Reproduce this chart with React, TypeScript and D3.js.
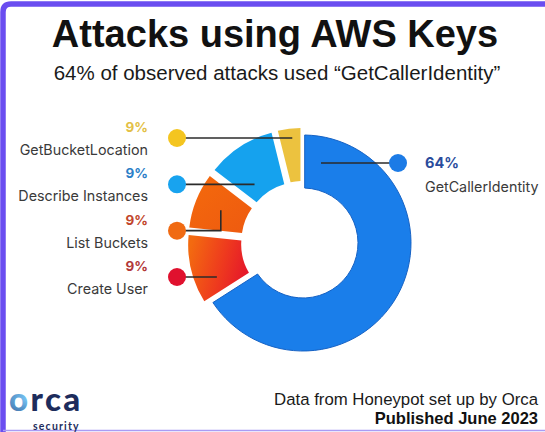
import React from "react";
import * as d3 from "d3";

const W = 545;
const H = 432;

// Slice data (visual shares; labels read from the text)
const categories = ["GetCallerIdentity", "Create User", "List Buckets", "Describe Instances", "GetBucketLocation"];
const sliceShares = [67, 10.5, 8.5, 10.5, 3.5];
const labelValues = [64, 9, 9, 9, 9];
const sliceColors = ["#1A7EEA", "url(#gRed)", "url(#gOrange)", "#15A2EE", "#ECC23F"];
const dotColors = ["#1C7BE6", "#E0112E", "#F06A12", "#18A3EF", "#F4C520"];
const pctColors = ["#2A4C9C", "#B23838", "#C2462C", "#2C7FC8", "#E3BF45"];

// left labels order top->bottom
const leftOrder = ["GetBucketLocation", "Describe Instances", "List Buckets", "Create User"];

const title = "Attacks using AWS Keys";
const subtitle = "64% of observed attacks used \u201CGetCallerIdentity\u201D";
const footer1 = "Data from Honeypot set up by Orca";
const footer2 = "Published June 2023";

export default function App() {
  const cx = 303;
  const cy = 243;
  const rOuter = 108;
  const rInner = 55;
  const explode = 7;

  const pie = d3
    .pie<number>()
    .sort(null)
    .startAngle(0)
    .endAngle(2 * Math.PI)
    .padAngle(0.028)
    .value((d) => d);
  const arcs = pie(sliceShares);
  const arcGen = d3.arc<d3.PieArcDatum<number>>().innerRadius(rInner).outerRadius(rOuter);

  const yScale = d3.scalePoint<string>().domain(leftOrder).range([138, 277]);
  const dotX = 177;
  const labelX = 148;

  const offsetOf = (i: number) => {
    if (i === 0) return [0, 0];
    const a = (arcs[i].startAngle + arcs[i].endAngle) / 2;
    return d3.pointRadial(a, explode);
  };

  // blue leader
  const blueDot = { x: 398, y: 163 };
  const leadR = 82;
  const blueEndX = cx + Math.sqrt(leadR * leadR - (blueDot.y - cy) ** 2);

  const labelFont = "Inter, 'Noto Sans', sans-serif";

  return (
    <svg
      width={W}
      height={H}
      style={{ position: "absolute", left: 0, top: 0, background: "#fff" }}
      fontFamily="'Liberation Sans', Arial, sans-serif"
    >
      <defs>
        <linearGradient id="gRed" x1="0" y1="0.3" x2="1" y2="0.6">
          <stop offset="0" stopColor="#F36A10" />
          <stop offset="0.55" stopColor="#EE3A1E" />
          <stop offset="1" stopColor="#E4142C" />
        </linearGradient>
        <linearGradient id="gOrange" x1="0" y1="0" x2="1" y2="1">
          <stop offset="0" stopColor="#F46A0C" />
          <stop offset="1" stopColor="#EE5A10" />
        </linearGradient>
        <radialGradient id="gLogo" cx="0.3" cy="0.5" r="0.7">
          <stop offset="0" stopColor="#7FD0FF" />
          <stop offset="1" stopColor="#1B3C7A" />
        </radialGradient>
      </defs>
      <rect width={W} height={H} fill="#fff" />
      {/* frame */}
      <path d={`M3,${H} V12 Q3,4 11,4 H${W}`} fill="none" stroke="#6A4DF0" strokeWidth={5.5} />
      <line x1={3} x2={W} y1={430.5} y2={430.5} stroke="#A99CF4" strokeWidth={1.5} />

      {/* title */}
      <text x={275} y={47} textAnchor="middle" fontSize={38} fontWeight="bold" fill="#111">
        {title}
      </text>
      <text x={277} y={80} textAnchor="middle" fontSize={20.5} fill="#1a1a1a">
        {subtitle}
      </text>

      {/* donut */}
      <g transform={`translate(${cx},${cy})`}>
        {arcs.map((a, i) => {
          const [ox, oy] = offsetOf(i);
          return (
            <path
              key={categories[i]}
              d={arcGen(a) || ""}
              transform={`translate(${ox},${oy})`}
              fill={sliceColors[i]}
              stroke={i === 0 ? "#1662C4" : "none"}
              strokeWidth={i === 0 ? 1 : 0}
            />
          );
        })}
      </g>

      {/* left leaders & labels */}
      {leftOrder.map((name) => {
        const i = categories.indexOf(name);
        const y = yScale(name)!;
        const [ox, oy] = offsetOf(i);
        const c = arcGen.centroid(arcs[i]);
        const ex = cx + c[0] + ox;
        const ey = cy + c[1] + oy;
        const elbow = name === "List Buckets";
        const d = elbow ? `M${dotX},${y} H${ex} V${ey}` : `M${dotX},${y} H${ex}`;
        return (
          <g key={name}>
            <path d={d} fill="none" stroke="#2b2b2b" strokeWidth={1.6} />
            <circle cx={dotX} cy={y} r={9} fill={dotColors[i]} />
            <text
              x={labelX}
              y={y - 6}
              textAnchor="end"
              fontFamily={labelFont}
              fontWeight={700}
              fontSize={13.5}
              fill={pctColors[i]}
            >
              {labelValues[i]}%
            </text>
            <text
              x={labelX}
              y={y + 17}
              textAnchor="end"
              fontFamily={labelFont}
              fontSize={14.3}
              fill="#3a3a3a"
            >
              {name}
            </text>
          </g>
        );
      })}

      {/* right leader & label */}
      <line x1={blueEndX} x2={blueDot.x} y1={blueDot.y} y2={blueDot.y} stroke="#2b2b2b" strokeWidth={1.6} />
      <circle cx={blueDot.x} cy={blueDot.y} r={9} fill={dotColors[0]} />
      <text x={425} y={168} fontFamily={labelFont} fontWeight={700} fontSize={14.5} fill={pctColors[0]}>
        {labelValues[0]}%
      </text>
      <text x={425} y={192} fontFamily={labelFont} fontSize={14.3} fill="#3a3a3a">
        {categories[0]}
      </text>

      {/* footer */}
      <text x={538} y={405} textAnchor="end" fontSize={16.8} fill="#1a1a1a">
        {footer1}
      </text>
      <text x={538} y={424} textAnchor="end" fontSize={16.5} fontWeight="bold" fill="#111">
        {footer2}
      </text>

      {/* logo */}
      <text x={9} y={411} fontFamily="Lato, 'Noto Sans', sans-serif" fontWeight={900} fontSize={33} fill="#1D2C5C" letterSpacing={2.4}>
        <tspan fill="url(#gLogo)">o</tspan>rca
      </text>
      <text x={33} y={429.5} fontFamily="Lato, 'Noto Sans', sans-serif" fontWeight={700} fontSize={10.5} fill="#1D2C5C" letterSpacing={1.2}>
        security
      </text>
    </svg>
  );
}
